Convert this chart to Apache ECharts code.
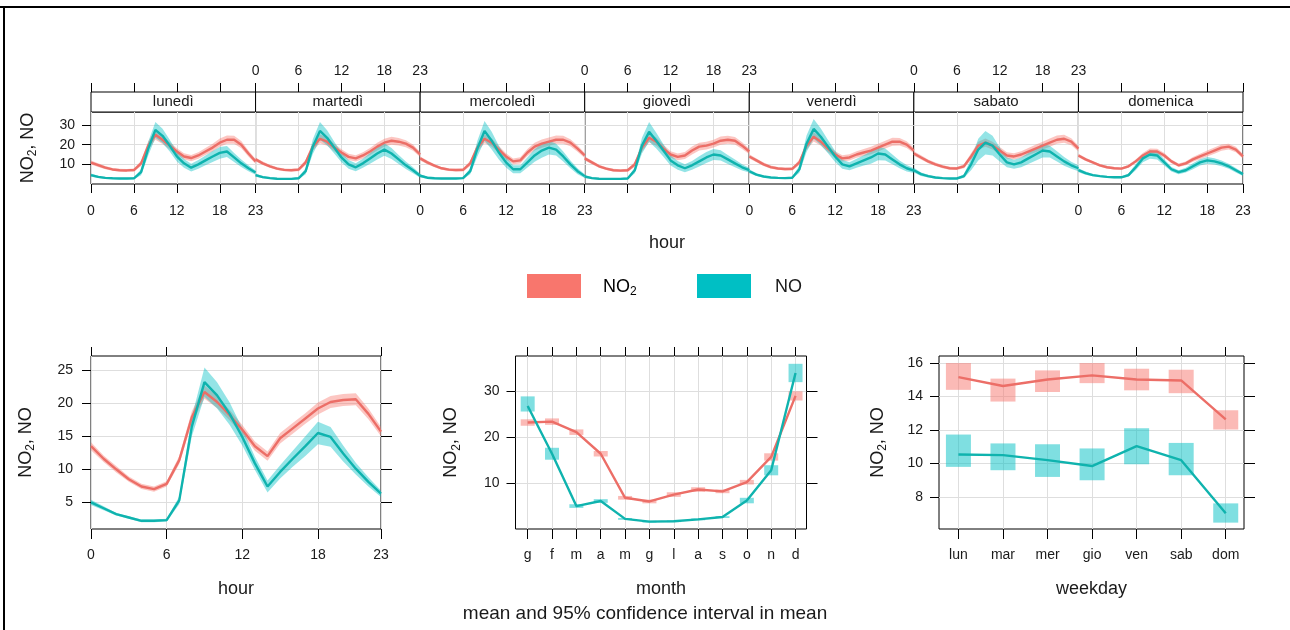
<!DOCTYPE html>
<html>
<head>
<meta charset="utf-8">
<script src="https://cdn.jsdelivr.net/npm/echarts@6.0.0/dist/echarts.min.js"></script>
<style>
html, body { margin: 0; padding: 0; background: #fff; }
#chart { width: 1290px; height: 630px; }
</style>
</head>
<body>
<div id="chart"></div>
<script>
// categories and tick labels
var days = ['lunedì', 'martedì', 'mercoledì', 'giovedì', 'venerdì', 'sabato', 'domenica'];
var hours = [0, 1, 2, 3, 4, 5, 6, 7, 8, 9, 10, 11, 12, 13, 14, 15, 16, 17, 18, 19, 20, 21, 22, 23];
var monthLabels = ['g', 'f', 'm', 'a', 'm', 'g', 'l', 'a', 's', 'o', 'n', 'd'];
var months = [1, 2, 3, 4, 5, 6, 7, 8, 9, 10, 11, 12];
var weekdayLabels = ['lun', 'mar', 'mer', 'gio', 'ven', 'sab', 'dom'];
var weekdays = [1, 2, 3, 4, 5, 6, 7];

// day x hour means
var no2Lun = [10.9, 9.6, 8.3, 7.4, 7.0, 6.9, 7.1, 10.5, 19.5, 25.0, 22.5, 19.5, 16.5, 14.0, 13.2, 14.5, 16.5, 18.5, 21.0, 22.5, 22.5, 20.0, 15.5, 11.5];
var noLun  = [4.5, 3.6, 3.1, 2.9, 2.8, 2.8, 2.9, 6.0, 18.0, 27.5, 24.5, 19.5, 14.0, 10.5, 8.3, 10.0, 12.0, 14.0, 15.8, 16.5, 13.5, 10.5, 8.0, 5.8];
var no2Mar = [12.5, 10.5, 9.0, 7.8, 7.2, 7.0, 7.3, 11.0, 19.0, 23.0, 21.5, 18.5, 16.0, 13.8, 13.0, 14.5, 16.5, 19.0, 21.0, 22.0, 21.5, 20.5, 18.5, 15.0];
var noMar  = [4.5, 3.5, 3.0, 2.7, 2.6, 2.6, 2.9, 6.5, 19.0, 27.0, 23.5, 18.5, 13.5, 10.0, 8.5, 10.5, 13.0, 15.5, 17.5, 15.5, 12.5, 9.5, 7.0, 4.2];
var no2Mer = [13.0, 11.0, 9.3, 8.0, 7.3, 7.1, 7.2, 10.5, 18.5, 23.0, 21.0, 17.5, 14.0, 11.5, 12.0, 16.0, 19.0, 20.5, 21.5, 22.5, 22.5, 21.0, 18.0, 14.5];
var noMer  = [4.2, 3.2, 2.9, 2.8, 2.8, 2.8, 3.0, 6.5, 18.0, 27.0, 22.0, 16.0, 11.0, 7.5, 7.5, 11.0, 14.5, 17.0, 18.5, 17.5, 14.0, 10.0, 6.5, 4.0];
var no2Gio = [13.0, 11.0, 9.0, 7.8, 7.0, 6.8, 7.0, 10.0, 18.5, 23.5, 21.5, 18.0, 15.0, 13.8, 14.5, 17.0, 19.0, 19.5, 20.5, 22.0, 22.5, 22.0, 19.5, 16.5];
var noGio  = [3.8, 3.0, 2.7, 2.6, 2.6, 2.6, 2.8, 7.0, 19.5, 26.5, 22.0, 17.0, 12.0, 9.5, 8.0, 9.5, 11.5, 13.5, 15.0, 14.5, 12.5, 10.5, 8.5, 7.0];
var no2Ven = [14.0, 12.0, 10.0, 8.6, 7.9, 7.6, 7.7, 11.0, 19.5, 24.0, 21.5, 18.0, 15.0, 13.0, 13.5, 15.0, 16.0, 17.0, 18.5, 20.0, 21.5, 21.5, 20.0, 17.0];
var noVen  = [6.5, 4.8, 3.8, 3.3, 3.1, 3.0, 3.2, 7.5, 20.5, 28.0, 24.0, 19.0, 14.0, 10.0, 9.0, 10.5, 12.0, 13.5, 15.5, 15.0, 12.5, 10.0, 8.0, 6.8];
var no2Sab = [15.5, 13.5, 11.5, 10.0, 8.8, 8.0, 7.9, 9.0, 14.0, 19.5, 21.0, 19.5, 17.0, 14.5, 14.0, 15.0, 16.5, 18.0, 19.5, 21.0, 22.5, 23.0, 21.5, 18.0];
var noSab  = [7.0, 5.0, 4.0, 3.3, 3.0, 2.8, 2.8, 4.0, 10.0, 17.5, 21.0, 19.5, 15.0, 11.0, 10.0, 11.0, 13.0, 15.0, 17.0, 16.5, 14.0, 11.5, 9.5, 8.0];
var no2Dom = [14.5, 12.5, 11.0, 9.5, 8.5, 8.0, 7.8, 9.0, 11.5, 14.5, 16.5, 16.5, 14.5, 11.5, 9.5, 10.5, 12.5, 14.0, 15.5, 17.0, 18.5, 19.0, 17.5, 14.0];
var noDom  = [7.0, 5.5, 4.5, 4.0, 3.6, 3.4, 3.4, 4.5, 8.5, 13.0, 15.0, 14.5, 11.0, 7.5, 6.0, 7.0, 9.0, 11.0, 12.0, 11.5, 10.5, 9.0, 7.0, 5.0];

// half widths of the 95% interval, day x hour
var no2HwLun = [1.0, 0.9, 0.8, 0.7, 0.7, 0.7, 0.8, 1.3, 2.2, 2.5, 2.2, 1.9, 1.7, 1.6, 1.6, 1.7, 1.8, 2.0, 2.1, 2.1, 2.0, 1.8, 1.5, 1.2];
var noHwLun  = [0.8, 0.6, 0.5, 0.4, 0.4, 0.4, 0.5, 1.5, 3.5, 4.0, 3.6, 3.0, 2.6, 2.2, 2.0, 2.2, 2.5, 2.8, 3.0, 2.8, 2.3, 1.9, 1.5, 1.1];
var no2HwMar = [1.0, 0.9, 0.8, 0.7, 0.7, 0.7, 0.8, 1.3, 2.0, 2.3, 2.1, 1.9, 1.7, 1.6, 1.6, 1.7, 1.8, 2.0, 2.0, 2.0, 1.9, 1.8, 1.6, 1.3];
var noHwMar  = [0.8, 0.6, 0.5, 0.4, 0.4, 0.4, 0.5, 1.5, 3.8, 4.5, 3.8, 3.0, 2.5, 2.2, 2.0, 2.3, 2.7, 3.0, 3.2, 2.8, 2.3, 1.9, 1.5, 1.0];
var no2HwMer = [1.0, 0.9, 0.8, 0.7, 0.7, 0.7, 0.8, 1.3, 2.0, 2.3, 2.1, 1.8, 1.6, 1.5, 1.6, 1.8, 2.0, 2.1, 2.1, 2.1, 2.0, 1.8, 1.6, 1.3];
var noHwMer  = [0.8, 0.6, 0.5, 0.4, 0.4, 0.4, 0.5, 1.5, 4.0, 5.0, 4.5, 3.5, 2.6, 2.0, 2.0, 2.6, 3.2, 3.6, 3.5, 3.0, 2.5, 2.0, 1.5, 1.0];
var no2HwGio = [1.0, 0.9, 0.8, 0.7, 0.7, 0.7, 0.8, 1.3, 2.0, 2.3, 2.1, 1.9, 1.7, 1.7, 1.8, 2.0, 2.0, 2.0, 2.0, 2.1, 2.0, 1.9, 1.7, 1.4];
var noHwGio  = [0.7, 0.5, 0.4, 0.4, 0.4, 0.4, 0.5, 1.5, 4.0, 5.0, 4.0, 3.2, 2.6, 2.2, 2.0, 2.2, 2.6, 2.8, 2.8, 2.6, 2.3, 2.0, 1.6, 1.2];
var no2HwVen = [1.1, 1.0, 0.9, 0.8, 0.7, 0.7, 0.8, 1.3, 2.1, 2.4, 2.1, 1.9, 1.7, 1.6, 1.6, 1.7, 1.8, 1.9, 2.0, 2.0, 2.0, 1.9, 1.7, 1.4];
var noHwVen  = [1.0, 0.7, 0.5, 0.4, 0.4, 0.4, 0.5, 1.8, 4.2, 5.0, 4.2, 3.4, 2.8, 2.3, 2.0, 2.3, 2.6, 3.2, 3.4, 3.0, 2.5, 2.0, 1.6, 1.2];
var no2HwSab = [1.2, 1.1, 1.0, 0.9, 0.8, 0.8, 0.8, 1.0, 1.6, 2.0, 2.1, 2.0, 1.8, 1.7, 1.6, 1.7, 1.8, 1.9, 2.0, 2.1, 2.1, 2.0, 1.8, 1.5];
var noHwSab  = [1.2, 0.9, 0.7, 0.5, 0.4, 0.4, 0.4, 1.0, 3.0, 5.5, 6.0, 5.0, 3.5, 2.5, 2.3, 2.5, 2.8, 3.2, 3.5, 3.0, 2.6, 2.2, 1.8, 1.5];
var no2HwDom = [0.9, 0.8, 0.7, 0.7, 0.6, 0.6, 0.6, 0.8, 1.0, 1.3, 1.5, 1.4, 1.2, 1.0, 0.9, 1.0, 1.2, 1.4, 1.5, 1.6, 1.6, 1.5, 1.4, 1.2];
var noHwDom  = [1.0, 0.8, 0.6, 0.5, 0.5, 0.5, 0.5, 0.8, 1.5, 2.0, 2.2, 2.0, 1.6, 1.2, 1.0, 1.2, 1.5, 1.6, 1.7, 1.6, 1.5, 1.3, 1.1, 0.9];

// hour of day (all days)
var no2Hour   = [13.5, 11.6, 10.0, 8.5, 7.4, 7.0, 7.8, 11.4, 17.9, 21.7, 20.2, 18.2, 16.0, 13.5, 12.0, 14.7, 16.2, 17.7, 19.2, 20.2, 20.5, 20.6, 18.4, 15.7];
var noHour    = [5.0, 4.1, 3.2, 2.7, 2.2, 2.2, 2.3, 5.3, 16.5, 23.2, 21.2, 18.4, 14.9, 10.9, 7.4, 9.6, 11.6, 13.5, 15.5, 14.9, 12.4, 10.1, 8.1, 6.3];
var no2HourHw = [0.6, 0.5, 0.5, 0.4, 0.4, 0.4, 0.4, 0.6, 0.9, 1.0, 0.9, 0.8, 0.7, 0.7, 0.7, 0.8, 0.8, 0.8, 0.9, 0.9, 0.9, 0.9, 0.8, 0.7];
var noHourHw  = [0.4, 0.3, 0.2, 0.2, 0.2, 0.2, 0.2, 0.6, 1.5, 2.2, 2.0, 1.7, 1.3, 1.0, 0.9, 1.0, 1.2, 1.5, 1.7, 1.5, 1.2, 0.9, 0.7, 0.5];

// month
var no2Month   = [23.2, 23.4, 21.1, 16.4, 6.8, 6.0, 7.5, 8.6, 8.2, 10.2, 15.7, 29.0];
var no2MonthLo = [22.5, 22.7, 20.5, 15.8, 6.4, 5.6, 7.0, 8.1, 7.8, 9.7, 14.9, 28.0];
var no2MonthHi = [23.9, 24.1, 21.7, 17.0, 7.2, 6.4, 8.0, 9.1, 8.6, 10.7, 16.5, 30.0];
var noMonth    = [26.8, 16.4, 5.0, 6.1, 2.2, 1.6, 1.7, 2.1, 2.6, 6.2, 12.8, 34.0];
var noMonthLo  = [25.6, 15.1, 4.6, 5.7, 2.0, 1.4, 1.5, 1.9, 2.4, 5.6, 11.7, 32.0];
var noMonthHi  = [28.9, 17.7, 5.4, 6.5, 2.4, 1.8, 1.9, 2.3, 2.8, 6.8, 13.9, 36.0];

// weekday
var no2Week   = [15.16, 14.63, 15.02, 15.26, 15.02, 14.96, 12.64];
var no2WeekLo = [14.4, 13.7, 14.27, 14.8, 14.37, 14.2, 12.03];
var no2WeekHi = [16.0, 15.07, 15.56, 16.0, 15.66, 15.6, 13.18];
var noWeek    = [10.54, 10.5, 10.2, 9.85, 11.04, 10.2, 7.03];
var noWeekLo  = [9.8, 9.6, 9.2, 9.0, 9.96, 9.3, 6.47];
var noWeekHi  = [11.73, 11.2, 11.15, 10.9, 12.1, 11.23, 7.62];

var dayNo2 = [no2Lun, no2Mar, no2Mer, no2Gio, no2Ven, no2Sab, no2Dom];
var dayNo = [noLun, noMar, noMer, noGio, noVen, noSab, noDom];
var dayNo2Hw = [no2HwLun, no2HwMar, no2HwMer, no2HwGio, no2HwVen, no2HwSab, no2HwDom];
var dayNoHw = [noHwLun, noHwMar, noHwMer, noHwGio, noHwVen, noHwSab, noHwDom];

var FONT = '"Liberation Sans", Arial, sans-serif';
var TXT = '#1a1a1a';
var GRIDLINE = '#dedede';
var RED = '#F8766D', TEAL = '#00BFC4';
var RED_LINE = '#EC6E67', TEAL_LINE = '#0FB3AE';
var RED_BAND = 'rgba(248,118,109,0.42)', TEAL_BAND = 'rgba(0,191,196,0.42)';
var RED_BOX = 'rgba(248,118,109,0.5)', TEAL_BOX = 'rgba(0,191,196,0.5)';
var PW = 1152 / 7;

var yName = '{a|NO}{b|2}{a|, NO}';
var nameRich = {
  a: { fontSize: 18, fontFamily: FONT, color: TXT, lineHeight: 22 },
  b: { fontSize: 12, fontFamily: FONT, color: TXT, lineHeight: 12, verticalAlign: 'bottom' }
};
function nameStyle() {
  return { fontSize: 18, fontFamily: FONT, color: TXT, rich: nameRich };
}
function labelStyle(show, margin, extra) {
  var o = { show: show, margin: margin, fontSize: 14, fontFamily: FONT, color: TXT };
  for (var k in extra) o[k] = extra[k];
  return o;
}
function tick(show, len, custom) {
  var o = { show: show, length: len, lineStyle: { color: '#000', width: 1 } };
  if (custom) o.customValues = custom;
  return o;
}
var split = { show: true, lineStyle: { color: GRIDLINE, width: 1 } };
var noSplit = { show: false };
var noLine = { show: false, onZero: false };

var grids = [], xAxes = [], xTop = [], yAxes = [], yRight = [], series = [];

// top: 7 day panels
for (var i = 0; i < 7; i++) {
  grids.push({ left: 91 + i * PW, top: 112, width: PW, height: 72, show: true, borderColor: '#000', borderWidth: 1 });
  xAxes.push({
    gridIndex: i, type: 'value', min: 0, max: 23, interval: 6, position: 'bottom',
    axisLine: noLine, axisTick: tick(true, 9), axisLabel: labelStyle(i % 2 === 0, 20), splitLine: split,
    name: i === 3 ? 'hour' : '', nameLocation: 'middle', nameGap: 50, nameTextStyle: nameStyle()
  });
  xTop.push({
    gridIndex: i, type: 'value', min: 0, max: 23, interval: 6, position: 'top', offset: 20,
    axisLine: noLine, axisTick: tick(true, 9), axisLabel: labelStyle(i % 2 === 1, 14), splitLine: noSplit
  });
  yAxes.push({
    gridIndex: i, type: 'value', min: 0, max: 36.6, interval: 10, position: 'left',
    axisLine: noLine, axisTick: tick(i === 0, 9, [10, 20, 30]),
    axisLabel: labelStyle(i === 0, 16, { customValues: [10, 20, 30] }), splitLine: split,
    name: i === 0 ? yName : '', nameLocation: 'middle', nameGap: 52, nameTextStyle: nameStyle()
  });
}
yRight.push({
  gridIndex: 6, type: 'value', min: 0, max: 36.6, interval: 10, position: 'right',
  axisLine: noLine, axisTick: tick(true, 9, [10, 20, 30]), axisLabel: { show: false }, splitLine: noSplit
});

// bottom left: hour
grids.push({ left: 91, top: 356, width: 290, height: 173, show: true, borderColor: '#000', borderWidth: 1 });
xAxes.push({
  gridIndex: 7, type: 'value', min: 0, max: 23, interval: 6, position: 'bottom',
  axisLine: noLine, axisTick: tick(true, 10), axisLabel: labelStyle(true, 19), splitLine: split,
  name: 'hour', nameLocation: 'middle', nameGap: 51, nameTextStyle: nameStyle()
});
xTop.push({
  gridIndex: 7, type: 'value', min: 0, max: 23, interval: 6, position: 'top',
  axisLine: noLine, axisTick: tick(true, 9), axisLabel: { show: false }, splitLine: noSplit
});
yAxes.push({
  gridIndex: 7, type: 'value', min: 0.96, max: 27.16, position: 'left',
  axisLine: noLine, axisTick: tick(true, 9, [5, 10, 15, 20, 25]),
  axisLabel: labelStyle(true, 18, { customValues: [5, 10, 15, 20, 25] }), splitLine: split,
  name: yName, nameLocation: 'middle', nameGap: 54, nameTextStyle: nameStyle()
});
yRight.push({
  gridIndex: 7, type: 'value', min: 0.96, max: 27.16, position: 'right',
  axisLine: noLine, axisTick: tick(true, 11, [5, 10, 15, 20, 25]), axisLabel: { show: false }, splitLine: noSplit
});

// bottom middle: month
grids.push({ left: 515.5, top: 356, width: 291, height: 173, show: true, borderColor: '#000', borderWidth: 1 });
xAxes.push({
  gridIndex: 8, type: 'value', min: 0.5, max: 12.45, splitNumber: 12, position: 'bottom',
  axisLine: noLine, axisTick: tick(true, 10, months),
  axisLabel: labelStyle(true, 19, { customValues: months, formatter: function (v) { return monthLabels[v - 1]; } }),
  splitLine: split,
  name: 'month', nameLocation: 'middle', nameGap: 51, nameTextStyle: nameStyle()
});
xTop.push({
  gridIndex: 8, type: 'value', min: 0.5, max: 12.45, splitNumber: 12, position: 'top',
  axisLine: noLine, axisTick: tick(true, 9, months), axisLabel: { show: false }, splitLine: noSplit
});
yAxes.push({
  gridIndex: 8, type: 'value', min: 0, max: 37.7, interval: 10, position: 'left',
  axisLine: noLine, axisTick: tick(true, 9, [10, 20, 30]),
  axisLabel: labelStyle(true, 16, { customValues: [10, 20, 30] }), splitLine: split,
  name: yName, nameLocation: 'middle', nameGap: 53, nameTextStyle: nameStyle()
});
yRight.push({
  gridIndex: 8, type: 'value', min: 0, max: 37.7, interval: 10, position: 'right',
  axisLine: noLine, axisTick: tick(true, 11, [10, 20, 30]), axisLabel: { show: false }, splitLine: noSplit
});

// bottom right: weekday
grids.push({ left: 939, top: 356, width: 305, height: 173, show: true, borderColor: '#000', borderWidth: 1 });
xAxes.push({
  gridIndex: 9, type: 'value', min: 0.564, max: 7.41, splitNumber: 7, position: 'bottom',
  axisLine: noLine, axisTick: tick(true, 10, weekdays),
  axisLabel: labelStyle(true, 19, { customValues: weekdays, formatter: function (v) { return weekdayLabels[v - 1]; } }),
  splitLine: split,
  name: 'weekday', nameLocation: 'middle', nameGap: 51, nameTextStyle: nameStyle()
});
xTop.push({
  gridIndex: 9, type: 'value', min: 0.564, max: 7.41, splitNumber: 7, position: 'top',
  axisLine: noLine, axisTick: tick(true, 9, weekdays), axisLabel: { show: false }, splitLine: noSplit
});
yAxes.push({
  gridIndex: 9, type: 'value', min: 6.09, max: 16.42, position: 'left',
  axisLine: noLine, axisTick: tick(true, 9, [8, 10, 12, 14, 16]),
  axisLabel: labelStyle(true, 16, { customValues: [8, 10, 12, 14, 16] }), splitLine: split,
  name: yName, nameLocation: 'middle', nameGap: 50, nameTextStyle: nameStyle()
});
yRight.push({
  gridIndex: 9, type: 'value', min: 6.09, max: 16.42, position: 'right',
  axisLine: noLine, axisTick: tick(true, 11, [8, 10, 12, 14, 16]), axisLabel: { show: false }, splitLine: noSplit
});

function bandSeries(gi, xs, mid, hw, color) {
  return {
    type: 'custom', xAxisIndex: gi, yAxisIndex: gi, silent: true, clip: true, z: 1,
    data: xs.map(function (x, k) { return [x, mid[k] - hw[k], mid[k] + hw[k]]; }),
    renderItem: function (params, api) {
      if (params.dataIndex !== 0) return null;
      var up = [], dn = [];
      for (var k = 0; k < xs.length; k++) {
        up.push(api.coord([xs[k], mid[k] + hw[k]]));
        dn.unshift(api.coord([xs[k], mid[k] - hw[k]]));
      }
      return { type: 'polygon', shape: { points: up.concat(dn) }, style: { fill: color } };
    }
  };
}
function boxSeries(gi, xs, lo, hi, color, w) {
  return {
    type: 'custom', xAxisIndex: gi, yAxisIndex: gi, silent: true, clip: true, z: 1,
    data: xs.map(function (x, k) { return [x, lo[k], hi[k]]; }),
    renderItem: function (params, api) {
      var a = api.coord([api.value(0), api.value(2)]);
      var b = api.coord([api.value(0), api.value(1)]);
      return { type: 'rect', shape: { x: a[0] - w / 2, y: a[1], width: w, height: b[1] - a[1] }, style: { fill: color } };
    }
  };
}
function lineSeries(gi, xs, ys, color) {
  return {
    type: 'line', xAxisIndex: gi, yAxisIndex: gi, silent: true, z: 3,
    data: xs.map(function (x, k) { return [x, ys[k]]; }),
    symbol: 'none', lineStyle: { color: color, width: 2.4 }, itemStyle: { color: color }
  };
}

for (var d = 0; d < 7; d++) {
  series.push(bandSeries(d, hours, dayNo2[d], dayNo2Hw[d], RED_BAND));
  series.push(bandSeries(d, hours, dayNo[d], dayNoHw[d], TEAL_BAND));
  series.push(lineSeries(d, hours, dayNo2[d], RED_LINE));
  series.push(lineSeries(d, hours, dayNo[d], TEAL_LINE));
}
series.push(bandSeries(7, hours, no2Hour, no2HourHw, RED_BAND));
series.push(bandSeries(7, hours, noHour, noHourHw, TEAL_BAND));
series.push(lineSeries(7, hours, no2Hour, RED_LINE));
series.push(lineSeries(7, hours, noHour, TEAL_LINE));

series.push(boxSeries(8, months, no2MonthLo, no2MonthHi, RED_BOX, 14));
series.push(boxSeries(8, months, noMonthLo, noMonthHi, TEAL_BOX, 14));
series.push(lineSeries(8, months, no2Month, RED_LINE));
series.push(lineSeries(8, months, noMonth, TEAL_LINE));

series.push(boxSeries(9, weekdays, no2WeekLo, no2WeekHi, RED_BOX, 25));
series.push(boxSeries(9, weekdays, noWeekLo, noWeekHi, TEAL_BOX, 25));
series.push(lineSeries(9, weekdays, no2Week, RED_LINE));
series.push(lineSeries(9, weekdays, noWeek, TEAL_LINE));

// strips, legend, frame
var graphics = [
  { type: 'line', shape: { x1: 0, y1: 7, x2: 1290, y2: 7 }, style: { stroke: '#000', lineWidth: 2 } },
  { type: 'line', shape: { x1: 4, y1: 6, x2: 4, y2: 630 }, style: { stroke: '#000', lineWidth: 2 } }
];
for (var s = 0; s < 7; s++) {
  graphics.push({ type: 'rect', shape: { x: 91 + s * PW, y: 92, width: PW, height: 20 }, style: { fill: '#fff', stroke: '#000', lineWidth: 1 } });
  graphics.push({
    type: 'text', x: 91 + s * PW + PW / 2, y: 102,
    style: { text: days[s], font: '15px ' + FONT, fill: TXT, align: 'center', verticalAlign: 'middle', textAlign: 'center', textVerticalAlign: 'middle' }
  });
}
graphics.push({ type: 'rect', shape: { x: 527, y: 274, width: 54, height: 24 }, style: { fill: RED } });
graphics.push({ type: 'rect', shape: { x: 697, y: 274, width: 54, height: 24 }, style: { fill: TEAL } });
graphics.push({
  type: 'text', x: 603, y: 287,
  style: { text: '{a|NO}{b|2}', rich: nameRich, align: 'left', verticalAlign: 'middle', textAlign: 'left', textVerticalAlign: 'middle' }
});
graphics.push({
  type: 'text', x: 775, y: 287,
  style: { text: 'NO', font: '18px ' + FONT, fill: TXT, align: 'left', verticalAlign: 'middle', textAlign: 'left', textVerticalAlign: 'middle' }
});
graphics.push({
  type: 'text', x: 645, y: 614,
  style: { text: 'mean and 95% confidence interval in mean', font: '19px ' + FONT, fill: TXT, align: 'center', verticalAlign: 'middle', textAlign: 'center', textVerticalAlign: 'middle' }
});

var chart = echarts.init(document.getElementById('chart'), null, { renderer: 'canvas' });
chart.setOption({
  animation: false,
  backgroundColor: '#fff',
  grid: grids,
  xAxis: xAxes.concat(xTop),
  yAxis: yAxes.concat(yRight),
  series: series,
  graphic: graphics
});
</script>
</body>
</html>
